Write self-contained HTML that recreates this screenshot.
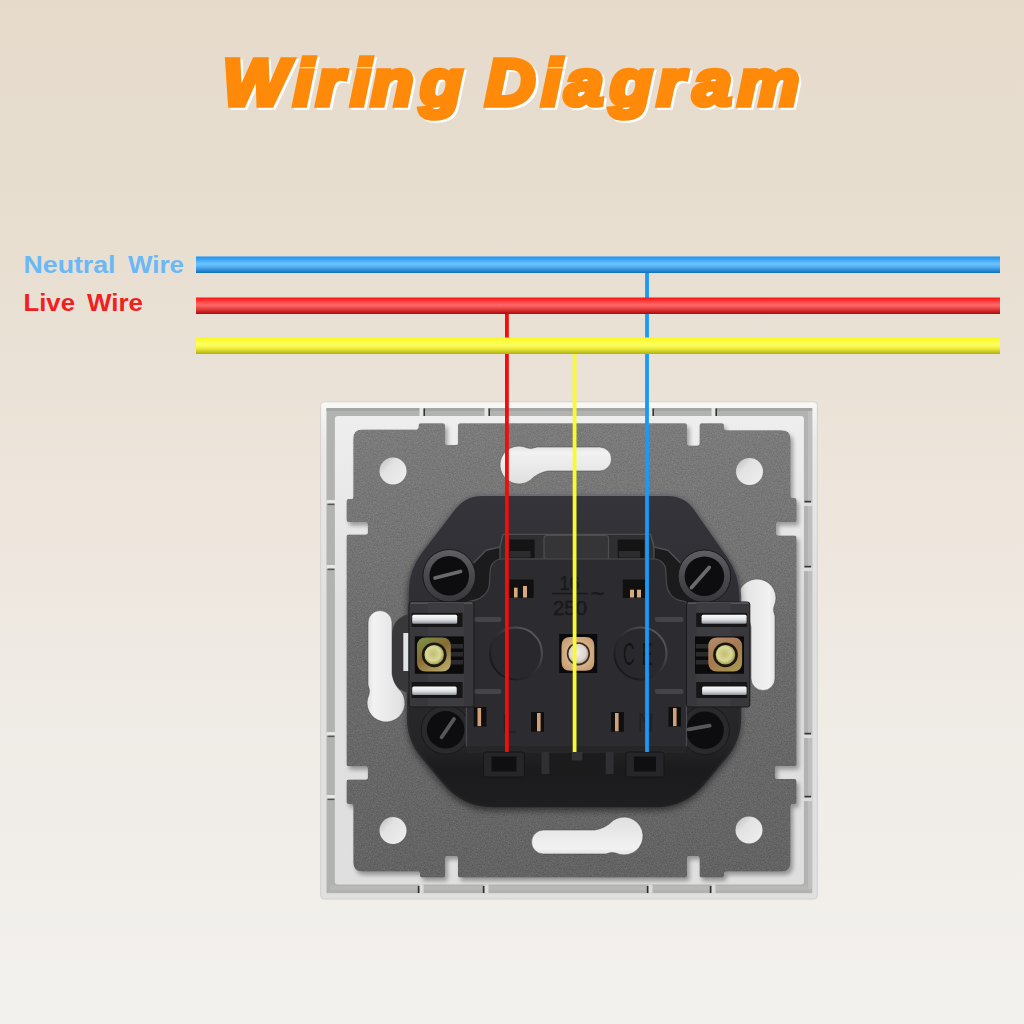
<!DOCTYPE html>
<html><head><meta charset="utf-8"><title>Wiring Diagram</title>
<style>
html,body{margin:0;padding:0;width:1024px;height:1024px;overflow:hidden;background:#ece5db}
svg{display:block;position:absolute;left:0;top:0}
text{font-family:"Liberation Sans",sans-serif}
</style></head><body>
<svg width="1024" height="1024" viewBox="0 0 1024 1024">
<defs>
<linearGradient id="bg" x1="0" y1="0" x2="0" y2="1">
<stop offset="0" stop-color="#e6dacb"/><stop offset="0.2" stop-color="#e7decf"/><stop offset="0.37" stop-color="#eae2d7"/><stop offset="0.49" stop-color="#eee5dc"/><stop offset="0.68" stop-color="#efebe5"/><stop offset="1" stop-color="#f3f1ee"/>
</linearGradient>
<linearGradient id="gb" x1="0" y1="0" x2="0" y2="1">
<stop offset="0" stop-color="#1a8ff0"/><stop offset="0.45" stop-color="#6cc4ff"/><stop offset="0.6" stop-color="#5ab4f5"/><stop offset="1" stop-color="#0f6fc0"/>
</linearGradient>
<linearGradient id="gr" x1="0" y1="0" x2="0" y2="1">
<stop offset="0" stop-color="#ff1010"/><stop offset="0.45" stop-color="#ff6a6a"/><stop offset="0.6" stop-color="#f45050"/><stop offset="1" stop-color="#b00808"/>
</linearGradient>
<linearGradient id="gy" x1="0" y1="0" x2="0" y2="1">
<stop offset="0" stop-color="#f8f820"/><stop offset="0.45" stop-color="#ffff60"/><stop offset="0.65" stop-color="#f0f040"/><stop offset="1" stop-color="#b0b010"/>
</linearGradient>
<linearGradient id="plate" x1="0" y1="0" x2="0" y2="1">
<stop offset="0" stop-color="#7b7b7b"/><stop offset="0.27" stop-color="#747474"/><stop offset="0.5" stop-color="#6b6b6c"/><stop offset="1" stop-color="#636364"/>
</linearGradient>
<linearGradient id="metal" x1="0" y1="0" x2="0" y2="1">
<stop offset="0" stop-color="#fbfcfd"/><stop offset="0.55" stop-color="#dfe2e5"/><stop offset="1" stop-color="#8e9296"/>
</linearGradient>
<radialGradient id="brass" cx="0.5" cy="0.5" r="0.6">
<stop offset="0" stop-color="#a08848"/><stop offset="0.7" stop-color="#8a7238"/><stop offset="1" stop-color="#6e5a2c"/>
</radialGradient>
<radialGradient id="screw" cx="0.45" cy="0.45" r="0.6">
<stop offset="0" stop-color="#c4bc70"/><stop offset="0.6" stop-color="#d8d898"/><stop offset="0.85" stop-color="#b0a858"/><stop offset="1" stop-color="#6a6228"/>
</radialGradient>
<radialGradient id="screwS" cx="0.45" cy="0.45" r="0.6">
<stop offset="0" stop-color="#f2eeea"/><stop offset="0.7" stop-color="#ddd5cd"/><stop offset="1" stop-color="#9a9088"/>
</radialGradient>
<linearGradient id="bodyedge" gradientUnits="userSpaceOnUse" x1="0" y1="495" x2="0" y2="806">
<stop offset="0" stop-color="#6c6c70"/><stop offset="0.35" stop-color="#505054"/><stop offset="0.7" stop-color="#2c2c2e"/><stop offset="1" stop-color="#202021"/>
</linearGradient>
<linearGradient id="bumpedge" x1="0" y1="1" x2="1" y2="0">
<stop offset="0" stop-color="#111113"/><stop offset="0.45" stop-color="#2a2a2e"/><stop offset="1" stop-color="#66666a"/>
</linearGradient>
<linearGradient id="rtop" x1="0" y1="0" x2="0" y2="1"><stop offset="0" stop-color="#c6c6c6"/><stop offset="1" stop-color="#dcdcdc"/></linearGradient>
<linearGradient id="rim" x1="0" y1="0" x2="0" y2="1"><stop offset="0" stop-color="#f8f8f6"/><stop offset="0.08" stop-color="#eaeaea"/><stop offset="0.4" stop-color="#e0e0e0"/><stop offset="1" stop-color="#e0e0e0"/></linearGradient>
<linearGradient id="inner" x1="0" y1="0" x2="0" y2="1"><stop offset="0" stop-color="#eeeeee"/><stop offset="0.2" stop-color="#e8e8e8"/><stop offset="0.4" stop-color="#e0e0e0"/><stop offset="1" stop-color="#dfdfdf"/></linearGradient>
<linearGradient id="holeg" x1="0" y1="0" x2="1" y2="1"><stop offset="0" stop-color="#b8b8b8"/><stop offset="0.35" stop-color="#e2e2e2"/><stop offset="1" stop-color="#f0f0f0"/></linearGradient>
<linearGradient id="bodyg" gradientUnits="userSpaceOnUse" x1="0" y1="495" x2="0" y2="806.5"><stop offset="0" stop-color="#34343a"/><stop offset="0.4" stop-color="#2d2d32"/><stop offset="0.8" stop-color="#252528"/><stop offset="0.88" stop-color="#1b1b1e"/><stop offset="1" stop-color="#1e1e21"/></linearGradient>
<linearGradient id="ringg" x1="0" y1="0" x2="0" y2="1"><stop offset="0" stop-color="#606064"/><stop offset="0.5" stop-color="#4a4a4e"/><stop offset="1" stop-color="#38383c"/></linearGradient>
<linearGradient id="slotg" gradientUnits="userSpaceOnUse" x1="0" y1="440" x2="0" y2="490"><stop offset="0" stop-color="#d0d0d0"/><stop offset="0.25" stop-color="#f2f2f2"/><stop offset="1" stop-color="#dcdcdc"/></linearGradient>
<linearGradient id="nutS" x1="0.2" y1="0" x2="0.8" y2="1"><stop offset="0" stop-color="#7e8c44"/><stop offset="0.45" stop-color="#8a6a34"/><stop offset="0.8" stop-color="#a89458"/><stop offset="1" stop-color="#b8a868"/></linearGradient>
<linearGradient id="nutR" x1="0.2" y1="0" x2="0.8" y2="1"><stop offset="0" stop-color="#b08a68"/><stop offset="0.5" stop-color="#a87850"/><stop offset="1" stop-color="#a89850"/></linearGradient>
<radialGradient id="nutC" cx="0.5" cy="0.5" r="0.62"><stop offset="0" stop-color="#c8a070"/><stop offset="0.6" stop-color="#d4b088"/><stop offset="1" stop-color="#c49a6c"/></radialGradient>
<filter id="grain" x="0" y="0" width="100%" height="100%" color-interpolation-filters="sRGB">
<feTurbulence type="fractalNoise" baseFrequency="0.75" numOctaves="2" seed="7" result="n"/>
<feColorMatrix in="n" type="matrix" values="1 0 0 0 0  1 0 0 0 0  1 0 0 0 0  0 0 0 0 1" result="g"/>
<feComposite in="SourceGraphic" in2="g" operator="arithmetic" k1="0" k2="1" k3="0.16" k4="-0.08" result="c"/>
<feComposite in="c" in2="SourceAlpha" operator="in"/>
</filter>
<filter id="sh2" x="-10%" y="-10%" width="120%" height="120%"><feGaussianBlur stdDeviation="3.5"/></filter>
<filter id="sh" x="-5%" y="-5%" width="110%" height="110%"><feGaussianBlur stdDeviation="2"/></filter>
</defs>
<rect width="1024" height="1024" fill="url(#bg)"/>

<g id="title" font-weight="bold" font-style="italic" font-size="64" stroke-linejoin="miter" stroke-width="5.6">
<text transform="translate(2.3,2.3) scale(1.07,1)" fill="#ffffff" stroke="#ffffff" x="208.41 274.49 295.89 327.94 346.92 392.80 439.25 453.83 506.26 528.04 570.09 614.30 647.85 689.63" y="105.2">Wiring Diagram</text>
<text transform="scale(1.07,1)" fill="#ff8a0a" stroke="#ff8a0a" x="208.41 274.49 295.89 327.94 346.92 392.80 439.25 453.83 506.26 528.04 570.09 614.30 647.85 689.63" y="105.2">Wiring Diagram</text>
</g>

<g font-weight="bold" font-size="24">
<text y="273" fill="#6ab8f7"><tspan x="23.5" textLength="92" lengthAdjust="spacingAndGlyphs">Neutral</tspan> <tspan x="128" textLength="56" lengthAdjust="spacingAndGlyphs">Wire</tspan></text>
<text y="310.8" fill="#f02020"><tspan x="23.5" textLength="51.5" lengthAdjust="spacingAndGlyphs">Live</tspan> <tspan x="87" textLength="56" lengthAdjust="spacingAndGlyphs">Wire</tspan></text>
</g>

<g id="socket">
<rect x="320.6" y="401.8" width="496.8" height="497.3" rx="3.5" fill="url(#rim)" stroke="#cfcbc6" stroke-width="0.8"/>
<rect x="326.5" y="408" width="485.7" height="485.2" fill="#b2b2b0"/>
<rect x="326.5" y="408" width="485.7" height="3" fill="#a4a4a2"/>
<rect x="808" y="411" width="4.2" height="478" fill="#bcbec0"/>
<rect x="330" y="886" width="478" height="4" fill="#b8b8b6"/>
<rect x="419.5" y="408" width="4" height="8.5" fill="#e6e6e6"/><rect x="423.5" y="408.5" width="1.5" height="7.5" fill="#333"/>
<rect x="419.5" y="884.5" width="4" height="8.7" fill="#dcdcdc"/><rect x="417.8" y="886" width="1.6" height="7" fill="#2c2c2c"/>
<rect x="484.5" y="408" width="4" height="8.5" fill="#e6e6e6"/><rect x="488.5" y="408.5" width="1.5" height="7.5" fill="#333"/>
<rect x="484.5" y="884.5" width="4" height="8.7" fill="#dcdcdc"/><rect x="482.8" y="886" width="1.6" height="7" fill="#2c2c2c"/>
<rect x="648.5" y="408" width="4" height="8.5" fill="#e6e6e6"/><rect x="652.5" y="408.5" width="1.5" height="7.5" fill="#333"/>
<rect x="648.5" y="884.5" width="4" height="8.7" fill="#dcdcdc"/><rect x="646.8" y="886" width="1.6" height="7" fill="#2c2c2c"/>
<rect x="711.5" y="408" width="4" height="8.5" fill="#e6e6e6"/><rect x="715.5" y="408.5" width="1.5" height="7.5" fill="#333"/>
<rect x="711.5" y="884.5" width="4" height="8.7" fill="#dcdcdc"/><rect x="709.8" y="886" width="1.6" height="7" fill="#2c2c2c"/>
<rect x="326.5" y="500" width="8.5" height="3.6" fill="#e6e6e6"/><rect x="327.5" y="503.6" width="7" height="1.5" fill="#555"/>
<rect x="803.8" y="502.5" width="8.4" height="3.6" fill="#dcdcdc"/><rect x="804.5" y="500.8" width="6.5" height="1.6" fill="#333"/>
<rect x="326.5" y="565" width="8.5" height="3.6" fill="#e6e6e6"/><rect x="327.5" y="568.6" width="7" height="1.5" fill="#555"/>
<rect x="803.8" y="567.5" width="8.4" height="3.6" fill="#dcdcdc"/><rect x="804.5" y="565.8" width="6.5" height="1.6" fill="#333"/>
<rect x="326.5" y="732" width="8.5" height="3.6" fill="#e6e6e6"/><rect x="327.5" y="735.6" width="7" height="1.5" fill="#555"/>
<rect x="803.8" y="734.5" width="8.4" height="3.6" fill="#dcdcdc"/><rect x="804.5" y="732.8" width="6.5" height="1.6" fill="#333"/>
<rect x="326.5" y="795" width="8.5" height="3.6" fill="#e6e6e6"/><rect x="327.5" y="798.6" width="7" height="1.5" fill="#555"/>
<rect x="803.8" y="797.5" width="8.4" height="3.6" fill="#dcdcdc"/><rect x="804.5" y="795.8" width="6.5" height="1.6" fill="#333"/>
<rect x="334.9" y="416" width="469" height="468.5" rx="3" fill="url(#inner)"/>
<path d="M353.3,438.5 Q353.3,429.5 362.3,429.5 L416.5,429.5 Q418.5,429.5 418.5,427.5 L418.5,425.3 Q418.5,423.3 420.5,423.3 L443.0,423.3 Q445.0,423.3 445.0,425.3 L445.0,443.0 Q445.0,445.0 447.0,445.0 L456.0,445.0 Q458.0,445.0 458.0,443.0 L458.0,425.3 Q458.0,423.3 460.0,423.3 L685.0,423.3 Q687.0,423.3 687.0,425.3 L687.0,443.5 Q687.0,445.5 689.0,445.5 L697.5,445.5 Q699.5,445.5 699.5,443.5 L699.5,425.3 Q699.5,423.3 701.5,423.3 L722.0,423.3 Q724.0,423.3 724.0,425.3 L724.0,428.3 Q724.0,430.3 726.0,430.3 L781.5,430.3 Q790.5,430.3 790.5,439.3 L790.5,496.0 Q790.5,498.0 792.5,498.0 L794.5,498.0 Q796.5,498.0 796.5,500.0 L796.5,520.0 Q796.5,522.0 794.5,522.0 L778.0,522.0 Q776.0,522.0 776.0,524.0 L776.0,533.5 Q776.0,535.5 778.0,535.5 L794.5,535.5 Q796.5,535.5 796.5,537.5 L796.5,764.0 Q796.5,766.0 794.5,766.0 L777.0,766.0 Q775.0,766.0 775.0,768.0 L775.0,777.0 Q775.0,779.0 777.0,779.0 L794.5,779.0 Q796.5,779.0 796.5,781.0 L796.5,802.0 Q796.5,804.0 794.5,804.0 L792.5,804.0 Q790.5,804.0 790.5,806.0 L790.5,862.5 Q790.5,871.5 781.5,871.5 L726.0,871.5 Q724.0,871.5 724.0,873.5 L724.0,875.5 Q724.0,877.5 722.0,877.5 L701.5,877.5 Q699.5,877.5 699.5,875.5 L699.5,858.0 Q699.5,856.0 697.5,856.0 L689.0,856.0 Q687.0,856.0 687.0,858.0 L687.0,875.5 Q687.0,877.5 685.0,877.5 L460.0,877.5 Q458.0,877.5 458.0,875.5 L458.0,858.0 Q458.0,856.0 456.0,856.0 L447.0,856.0 Q445.0,856.0 445.0,858.0 L445.0,875.5 Q445.0,877.5 443.0,877.5 L422.0,877.5 Q420.0,877.5 420.0,875.5 L420.0,873.5 Q420.0,871.5 418.0,871.5 L362.3,871.5 Q353.3,871.5 353.3,862.5 L353.3,806.0 Q353.3,804.0 351.3,804.0 L348.5,804.0 Q346.5,804.0 346.5,802.0 L346.5,781.5 Q346.5,779.5 348.5,779.5 L365.8,779.5 Q367.8,779.5 367.8,777.5 L367.8,768.3 Q367.8,766.3 365.8,766.3 L348.5,766.3 Q346.5,766.3 346.5,764.3 L346.5,536.5 Q346.5,534.5 348.5,534.5 L365.8,534.5 Q367.8,534.5 367.8,532.5 L367.8,524.0 Q367.8,522.0 365.8,522.0 L348.5,522.0 Q346.5,522.0 346.5,520.0 L346.5,501.0 Q346.5,499.0 348.5,499.0 L351.3,499.0 Q353.3,499.0 353.3,497.0 Z" fill="#000" opacity="0.33" filter="url(#sh)" transform="translate(2.5,3.5)"/>
<path d="M353.3,438.5 Q353.3,429.5 362.3,429.5 L416.5,429.5 Q418.5,429.5 418.5,427.5 L418.5,425.3 Q418.5,423.3 420.5,423.3 L443.0,423.3 Q445.0,423.3 445.0,425.3 L445.0,443.0 Q445.0,445.0 447.0,445.0 L456.0,445.0 Q458.0,445.0 458.0,443.0 L458.0,425.3 Q458.0,423.3 460.0,423.3 L685.0,423.3 Q687.0,423.3 687.0,425.3 L687.0,443.5 Q687.0,445.5 689.0,445.5 L697.5,445.5 Q699.5,445.5 699.5,443.5 L699.5,425.3 Q699.5,423.3 701.5,423.3 L722.0,423.3 Q724.0,423.3 724.0,425.3 L724.0,428.3 Q724.0,430.3 726.0,430.3 L781.5,430.3 Q790.5,430.3 790.5,439.3 L790.5,496.0 Q790.5,498.0 792.5,498.0 L794.5,498.0 Q796.5,498.0 796.5,500.0 L796.5,520.0 Q796.5,522.0 794.5,522.0 L778.0,522.0 Q776.0,522.0 776.0,524.0 L776.0,533.5 Q776.0,535.5 778.0,535.5 L794.5,535.5 Q796.5,535.5 796.5,537.5 L796.5,764.0 Q796.5,766.0 794.5,766.0 L777.0,766.0 Q775.0,766.0 775.0,768.0 L775.0,777.0 Q775.0,779.0 777.0,779.0 L794.5,779.0 Q796.5,779.0 796.5,781.0 L796.5,802.0 Q796.5,804.0 794.5,804.0 L792.5,804.0 Q790.5,804.0 790.5,806.0 L790.5,862.5 Q790.5,871.5 781.5,871.5 L726.0,871.5 Q724.0,871.5 724.0,873.5 L724.0,875.5 Q724.0,877.5 722.0,877.5 L701.5,877.5 Q699.5,877.5 699.5,875.5 L699.5,858.0 Q699.5,856.0 697.5,856.0 L689.0,856.0 Q687.0,856.0 687.0,858.0 L687.0,875.5 Q687.0,877.5 685.0,877.5 L460.0,877.5 Q458.0,877.5 458.0,875.5 L458.0,858.0 Q458.0,856.0 456.0,856.0 L447.0,856.0 Q445.0,856.0 445.0,858.0 L445.0,875.5 Q445.0,877.5 443.0,877.5 L422.0,877.5 Q420.0,877.5 420.0,875.5 L420.0,873.5 Q420.0,871.5 418.0,871.5 L362.3,871.5 Q353.3,871.5 353.3,862.5 L353.3,806.0 Q353.3,804.0 351.3,804.0 L348.5,804.0 Q346.5,804.0 346.5,802.0 L346.5,781.5 Q346.5,779.5 348.5,779.5 L365.8,779.5 Q367.8,779.5 367.8,777.5 L367.8,768.3 Q367.8,766.3 365.8,766.3 L348.5,766.3 Q346.5,766.3 346.5,764.3 L346.5,536.5 Q346.5,534.5 348.5,534.5 L365.8,534.5 Q367.8,534.5 367.8,532.5 L367.8,524.0 Q367.8,522.0 365.8,522.0 L348.5,522.0 Q346.5,522.0 346.5,520.0 L346.5,501.0 Q346.5,499.0 348.5,499.0 L351.3,499.0 Q353.3,499.0 353.3,497.0 Z" fill="url(#plate)" filter="url(#grain)"/>
<circle cx="393" cy="471" r="13.5" fill="url(#holeg)"/>
<circle cx="749.5" cy="471.5" r="13.5" fill="url(#holeg)"/>
<circle cx="393" cy="830.5" r="13.5" fill="url(#holeg)"/>
<circle cx="749" cy="830" r="13.5" fill="url(#holeg)"/>
<path d="M519,446 A19,19 0 1 0 530,480.5 Q537,473 548,471 H599.5 A12,12 0 0 0 599.5,447 H537 Q531,449.5 527,447.8 A19,19 0 0 0 519,446 Z" transform="rotate(0 571.5 650.5)" fill="url(#slotg)" stroke="#4a4a4a" stroke-opacity="0.55" stroke-width="1"/>
<path d="M519,446 A19,19 0 1 0 530,480.5 Q537,473 548,471 H599.5 A12,12 0 0 0 599.5,447 H537 Q531,449.5 527,447.8 A19,19 0 0 0 519,446 Z" transform="rotate(90 571.5 650.5)" fill="url(#slotg)" stroke="#4a4a4a" stroke-opacity="0.55" stroke-width="1"/>
<path d="M519,446 A19,19 0 1 0 530,480.5 Q537,473 548,471 H599.5 A12,12 0 0 0 599.5,447 H537 Q531,449.5 527,447.8 A19,19 0 0 0 519,446 Z" transform="rotate(180 571.5 650.5)" fill="url(#slotg)" stroke="#4a4a4a" stroke-opacity="0.55" stroke-width="1"/>
<path d="M519,446 A19,19 0 1 0 530,480.5 Q537,473 548,471 H599.5 A12,12 0 0 0 599.5,447 H537 Q531,449.5 527,447.8 A19,19 0 0 0 519,446 Z" transform="rotate(270 571.5 650.5)" fill="url(#slotg)" stroke="#4a4a4a" stroke-opacity="0.55" stroke-width="1"/>
<path d="M454.7,508.5 Q465.0,495.0 482.0,495.0 L668.0,495.0 Q685.0,495.0 694.7,509.0 L727.7,556.4 Q740.3,574.5 740.3,596.5 L740.3,718.0 Q740.3,740.0 726.2,756.9 L704.2,783.3 Q685.0,806.3 655.0,806.3 L493.0,806.3 Q463.0,806.3 443.8,783.2 L421.9,756.9 Q407.8,740.0 407.8,718.0 L407.8,592.0 Q407.8,570.0 421.1,552.5 Z" fill="#000" opacity="0.55" filter="url(#sh2)" transform="translate(0,4)"/>
<path d="M454.7,508.5 Q465.0,495.0 482.0,495.0 L668.0,495.0 Q685.0,495.0 694.7,509.0 L727.7,556.4 Q740.3,574.5 740.3,596.5 L740.3,718.0 Q740.3,740.0 726.2,756.9 L704.2,783.3 Q685.0,806.3 655.0,806.3 L493.0,806.3 Q463.0,806.3 443.8,783.2 L421.9,756.9 Q407.8,740.0 407.8,718.0 L407.8,592.0 Q407.8,570.0 421.1,552.5 Z" fill="url(#bodyg)" stroke="url(#bodyedge)" stroke-width="1.8"/>
<path d="M440,602 L474,563 L486,551 L500,547 L500,560 L491,566 L489,590 L480,599 L466,603 Z" fill="#1b1b1d"/>
<path d="M714,602 L680,563 L668,551 L654,547 L654,560 L663,566 L665,590 L674,599 L688,603 Z" fill="#1b1b1d"/>
<circle cx="449.2" cy="575.8" r="26.3" fill="url(#ringg)" stroke="#19191b" stroke-width="1"/>
<circle cx="449.2" cy="575.8" r="19.8" fill="#0d0d0f"/>
<line x1="435" y1="578" x2="460.5" y2="571.5" stroke="#6a6a6c" stroke-width="3.8" stroke-linecap="round"/>
<circle cx="704.4" cy="576.3" r="26.3" fill="url(#ringg)" stroke="#19191b" stroke-width="1"/>
<circle cx="704.4" cy="576.3" r="19.8" fill="#0d0d0f"/>
<line x1="691.5" y1="587.5" x2="709.2" y2="567.5" stroke="#6a6a6c" stroke-width="3.8" stroke-linecap="round"/>
<circle cx="445.6" cy="729.8" r="24.4" fill="#2a2a2e" stroke="#19191b" stroke-width="1"/>
<circle cx="445.6" cy="729.8" r="18.8" fill="#0d0d0f"/>
<line x1="441.6" y1="737.3" x2="454" y2="719" stroke="#58585c" stroke-width="3.8" stroke-linecap="round"/>
<circle cx="705" cy="730.2" r="24.4" fill="#2a2a2e" stroke="#19191b" stroke-width="1"/>
<circle cx="705" cy="730.2" r="18.8" fill="#0d0d0f"/>
<line x1="688.5" y1="729.3" x2="709.7" y2="725.7" stroke="#58585c" stroke-width="3.8" stroke-linecap="round"/>
<path d="M473.5,563 L486,550.3 L500,547 L503,534.5 L650.5,534.5 L654,547 L668,550.3 L680.5,563" fill="none" stroke="#505052" stroke-width="1.4" stroke-linejoin="round"/>
<path d="M500,547 L503,534.5 L650.5,534.5 L654,547 L654,562 L500,562 Z" fill="#2f2f31" stroke="#505052" stroke-width="1.2" stroke-linejoin="round"/>
<rect x="509" y="539.5" width="25.600000000000023" height="18.5" fill="#141415"/>
<rect x="510" y="551" width="20.600000000000023" height="6.5" fill="#2c2c2e"/>
<rect x="617.7" y="539.5" width="26.59999999999991" height="18.5" fill="#141415"/>
<rect x="618.7" y="551" width="21.59999999999991" height="6.5" fill="#2c2c2e"/>
<rect x="544" y="535.5" width="64.5" height="24" rx="2.5" fill="#353537" stroke="#4e4e50" stroke-width="1.2"/>
<path d="M493.8,562.5 Q497.0,559.0 501.8,559.0 L654.2,559.0 Q659.0,559.0 662.2,562.5 L663.5,563.8 Q665.5,566.0 665.7,569.0 L666.6,584.3 Q667.0,590.0 670.5,594.5 L670.5,594.5 Q674.0,599.0 679.5,600.3 L684.6,601.5 Q686.5,602.0 686.5,604.0 L686.5,744.0 Q686.5,748.0 682.5,748.0 L470.4,748.0 Q466.4,748.0 466.4,744.0 L466.4,604.0 Q466.4,602.0 468.4,601.6 L474.1,600.3 Q480.0,599.0 484.2,594.8 L484.8,594.2 Q489.0,590.0 489.4,584.0 L490.3,569.0 Q490.5,566.0 492.5,563.8 Z" fill="#2c2c30" stroke="#4a4a4e" stroke-width="1.2"/>
<rect x="509" y="579.5" width="24.600000000000023" height="18.5" fill="#101011"/>
<rect x="514" y="587.7" width="3.6000000000000227" height="9.799999999999955" fill="#d9a97c"/>
<rect x="523" y="586" width="4" height="11.5" fill="#d9a97c"/>
<rect x="622.8" y="579.5" width="22.5" height="18.5" fill="#101011"/>
<rect x="630" y="589.7" width="4" height="7.7999999999999545" fill="#d9a97c"/>
<rect x="637" y="589.7" width="4" height="7.7999999999999545" fill="#d9a97c"/>
<g fill="#19191b" stroke="#19191b" stroke-width="0.5" font-size="21" text-anchor="middle">
<text x="569.5" y="589.6" textLength="20" lengthAdjust="spacingAndGlyphs">16</text>
<rect x="552" y="592.8" width="36" height="1.5" stroke="none"/>
<text x="570" y="614.6" textLength="34" lengthAdjust="spacingAndGlyphs">250</text>
<text x="597.5" y="602" font-size="26" textLength="14" lengthAdjust="spacingAndGlyphs">~</text>
</g>
<circle cx="516" cy="653.5" r="26" fill="#29292d" stroke="url(#bumpedge)" stroke-width="2"/>
<circle cx="640.5" cy="653.5" r="26" fill="#29292d" stroke="url(#bumpedge)" stroke-width="2"/>
<text transform="translate(623,665) scale(0.52,1)" x="0 36" y="0" font-size="31" fill="#141415">CE</text>
<rect x="559.2" y="634" width="38" height="39" fill="#0a0a0c"/>
<path d="M561.5,646.0 Q561.5,637.0 570.5,637.0 L585.3,637.0 Q594.3,637.0 594.3,646.0 L594.3,661.8 Q594.3,670.8 585.3,670.8 L570.5,670.8 Q561.5,670.8 561.5,661.8 Z" fill="url(#nutC)"/>
<circle cx="578.4" cy="653.8" r="11.6" fill="#3a2c1a"/>
<circle cx="578.4" cy="653.8" r="10" fill="url(#screwS)"/>
<rect x="473.7" y="707" width="12.699999999999989" height="19.600000000000023" fill="#0e0e0f"/>
<rect x="477.5" y="708" width="3.6" height="18.100000000000023" fill="#d2a078"/>
<rect x="531" y="712" width="13" height="19.799999999999955" fill="#0e0e0f"/>
<rect x="537" y="713" width="3.6" height="18.299999999999955" fill="#d2a078"/>
<rect x="611" y="712" width="12.799999999999955" height="19.799999999999955" fill="#0e0e0f"/>
<rect x="615" y="713" width="3.6" height="18.299999999999955" fill="#d2a078"/>
<rect x="668.5" y="707" width="12.5" height="19.600000000000023" fill="#0e0e0f"/>
<rect x="673" y="708" width="3.6" height="18.100000000000023" fill="#d2a078"/>
<g fill="#222224" font-size="28">
<text x="501.5" y="733" textLength="15" lengthAdjust="spacingAndGlyphs">L</text>
<text x="637.5" y="732" textLength="16.5" lengthAdjust="spacingAndGlyphs">N</text>
</g>
<rect x="466.4" y="746" width="220" height="7" fill="#262628"/>
<rect x="483.5" y="752" width="40.89999999999998" height="25" rx="2.5" fill="#26262a" stroke="#151517" stroke-width="1"/>
<rect x="491.5" y="756.5" width="24.899999999999977" height="15" fill="#0f0f11"/>
<rect x="625.9" y="752" width="38.10000000000002" height="25" rx="2.5" fill="#26262a" stroke="#151517" stroke-width="1"/>
<rect x="633.9" y="756.5" width="22.100000000000023" height="15" fill="#0f0f11"/>
<rect x="541.5" y="752" width="8" height="22" rx="1.5" fill="#303034"/>
<rect x="605.6" y="752" width="8" height="22" rx="1.5" fill="#303034"/>
<rect x="549.5" y="753" width="56" height="18" fill="#1b1b1c"/>
<rect x="571.8" y="752" width="10.6" height="8.5" fill="#333335"/>
<path d="M409,614 Q392,618 392,636 L392,672 Q393,690 409,693 Z" fill="#38383a"/>
<rect x="403.3" y="633" width="5.2" height="38" fill="#dfe3e6"/>
<rect x="409" y="602" width="65" height="105" rx="2.5" fill="#38383c" stroke="#18181a" stroke-width="1"/>
<rect x="410.5" y="602.3" width="62" height="1.5" fill="#5a5a60"/>
<rect x="428" y="603" width="36" height="103" fill="#3d3d41"/>
<rect x="411.6" y="612.9" width="51" height="14" fill="#161617"/>
<rect x="411.6" y="682" width="51" height="16" fill="#161617"/>
<rect x="412.2" y="614.8" width="45" height="9" rx="1.5" fill="url(#metal)"/>
<rect x="412.2" y="686.5" width="44.5" height="8.5" rx="1.5" fill="url(#metal)"/>
<rect x="414.8" y="636.4" width="49" height="37.4" fill="#0b0b0c"/>
<rect x="449" y="644" width="14" height="4.5" fill="#2a2a2c"/>
<rect x="449" y="652" width="14" height="4.5" fill="#2a2a2c"/>
<rect x="449" y="660" width="14" height="4.5" fill="#2a2a2c"/>
<path d="M417.0,646.6 Q417.0,637.6 426.0,637.6 L441.8,637.6 Q450.8,637.6 450.8,646.6 L450.8,662.6 Q450.8,671.6 441.8,671.6 L426.0,671.6 Q417.0,671.6 417.0,662.6 Z" fill="url(#nutS)"/>
<circle cx="434.2" cy="654.8" r="12.4" fill="#17170f"/>
<circle cx="434.2" cy="654.8" r="9.8" fill="url(#screw)"/>
<rect x="686.4" y="602" width="63.4" height="105" rx="2.5" fill="#38383c" stroke="#18181a" stroke-width="1"/>
<rect x="687.9" y="602.3" width="60.4" height="1.5" fill="#5a5a60"/>
<rect x="696.4" y="603" width="34.4" height="103" fill="#3d3d41"/>
<rect x="696.1999999999999" y="612.9" width="51" height="14" fill="#161617"/>
<rect x="696.1999999999999" y="682" width="51" height="16" fill="#161617"/>
<rect x="701.5999999999999" y="614.8" width="45" height="9" rx="1.5" fill="url(#metal)"/>
<rect x="702.0999999999999" y="686.5" width="44.5" height="8.5" rx="1.5" fill="url(#metal)"/>
<rect x="695.0" y="636.4" width="49" height="37.4" fill="#0b0b0c"/>
<rect x="695.8" y="644" width="14" height="4.5" fill="#2a2a2c"/>
<rect x="695.8" y="652" width="14" height="4.5" fill="#2a2a2c"/>
<rect x="695.8" y="660" width="14" height="4.5" fill="#2a2a2c"/>
<path d="M708.3,646.6 Q708.3,637.6 717.3,637.6 L733.1,637.6 Q742.1,637.6 742.1,646.6 L742.1,662.6 Q742.1,671.6 733.1,671.6 L717.3,671.6 Q708.3,671.6 708.3,662.6 Z" fill="url(#nutR)"/>
<circle cx="725.5" cy="654.8" r="12.4" fill="#17170f"/>
<circle cx="725.5" cy="654.8" r="9.8" fill="url(#screw)"/>
<rect x="474.5" y="617" width="27" height="5" rx="2" fill="#454547"/>
<rect x="655" y="617" width="28.5" height="5" rx="2" fill="#454547"/>
<rect x="474.5" y="689" width="27" height="5" rx="2" fill="#454547"/>
<rect x="655" y="689" width="28.5" height="5" rx="2" fill="#454547"/>
</g>
<!-- VERTICAL WIRES -->
<rect x="505" y="313" width="3.8" height="439" fill="#f20c0c"/>
<rect x="572.7" y="353" width="3.8" height="399" fill="#f8fb34"/>
<rect x="645.1" y="272" width="3.8" height="480" fill="#1a9af8"/>
<!-- HORIZONTAL WIRES -->
<rect x="196" y="256.5" width="804" height="16.5" fill="url(#gb)"/>
<rect x="196" y="297.5" width="804" height="16.5" fill="url(#gr)"/>
<rect x="196" y="337.5" width="804" height="16.5" fill="url(#gy)"/>
</svg>
</body></html>
